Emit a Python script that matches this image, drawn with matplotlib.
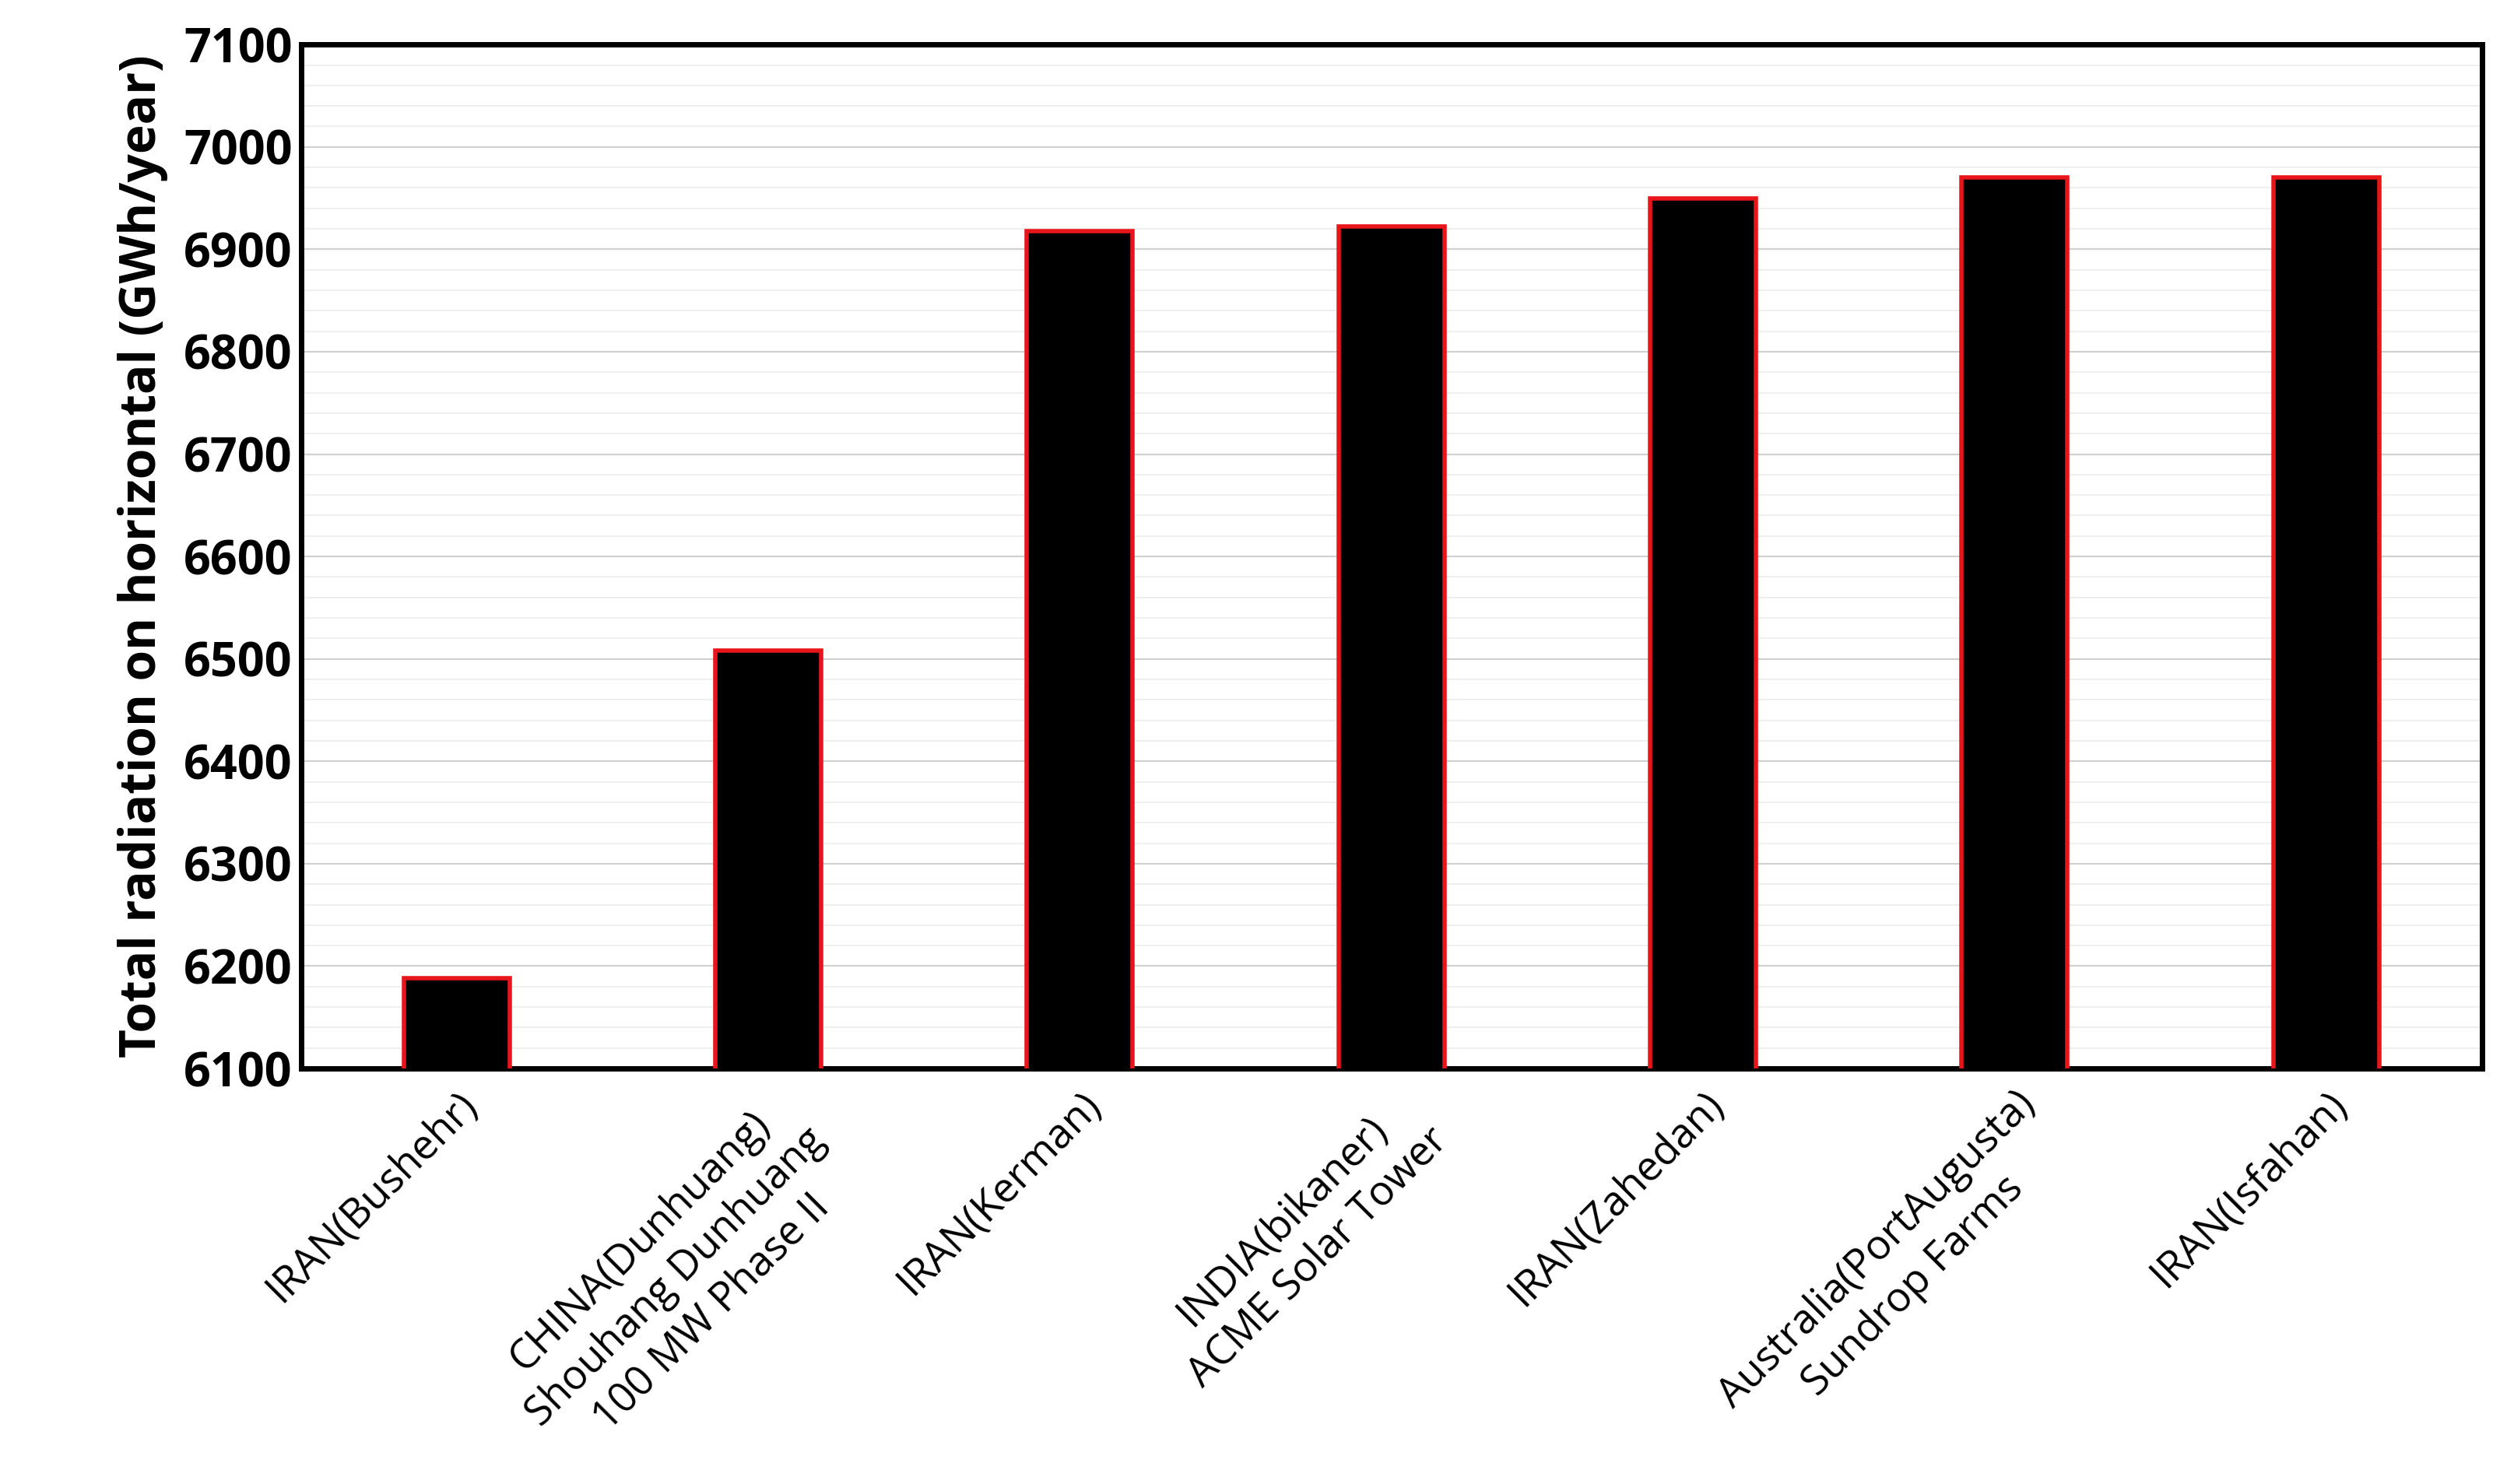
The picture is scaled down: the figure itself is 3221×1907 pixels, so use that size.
import matplotlib
matplotlib.use("Agg")
import matplotlib.pyplot as plt
from matplotlib.ticker import MultipleLocator

categories = ["IRAN(Bushehr)", "CHINA(Dunhuang)\nShouhang Dunhuang\n100 MW Phase II",
              "IRAN(Kerman)", "INDIA(bikaner)\nACME Solar Tower", "IRAN(Zahedan)",
              "Australia(PortAugusta)\nSundrop Farms", "IRAN(Isfahan)"]
values = [6188, 6508, 6918, 6922, 6950, 6970, 6970]

plt.rcParams['font.family'] = ['Open Sans', 'DejaVu Sans']
fig = plt.figure(figsize=(32.21, 19.07), dpi=100)
ax = fig.add_axes([0.12, 0.28, 0.87, 0.69])
x = range(len(values))
ax.bar(x, values, width=0.34, color='black', edgecolor='#e8161b', linewidth=4, zorder=3)
ax.set_ylim(6100, 7100)
ax.set_xlim(-0.5, len(values) - 0.5)
ax.yaxis.set_major_locator(MultipleLocator(100))
ax.yaxis.set_minor_locator(MultipleLocator(20))
ax.grid(axis='y', which='major', color='#d0d0d0', linewidth=1.5, zorder=0)
ax.grid(axis='y', which='minor', color='#ececec', linewidth=1.2, zorder=0)
ax.tick_params(axis='y', which='both', length=0, labelsize=44, pad=8)
ax.tick_params(axis='x', length=0, labelsize=38, pad=14)
for lab in ax.get_yticklabels():
    lab.set_fontweight('bold')
ax.set_xticks(list(x))
ax.set_xticklabels(categories, rotation=45, ha='right', rotation_mode='anchor',
                   multialignment='center', linespacing=1.3)
for s in ax.spines.values():
    s.set_linewidth(5)
ax.set_ylabel("Total radiation on horizontal (GWh/year)", fontsize=46, fontweight='bold', labelpad=14)
fig.savefig("out.png", dpi=100)
